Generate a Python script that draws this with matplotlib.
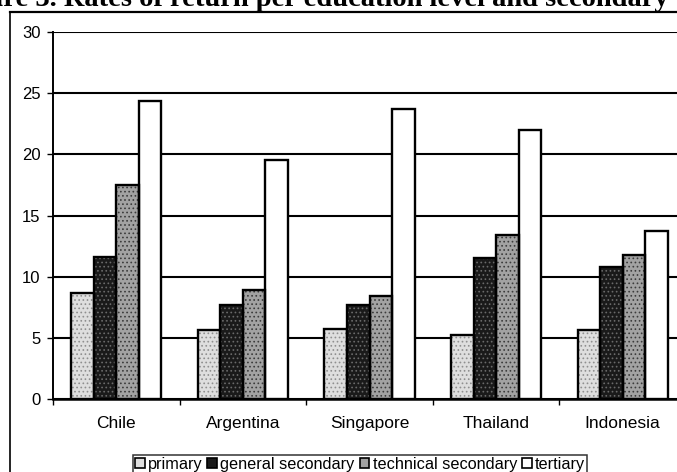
import matplotlib
matplotlib.use("Agg")
import matplotlib.pyplot as plt
from matplotlib.patches import Patch
from matplotlib.lines import Line2D
import numpy as np

countries = ["Chile", "Argentina", "Singapore", "Thailand", "Indonesia"]
series_names = ["primary", "general secondary", "technical secondary", "tertiary"]
primary = [8.7, 5.6, 5.7, 5.2, 5.6]
general_secondary = [11.6, 7.7, 7.7, 11.5, 10.8]
technical_secondary = [17.5, 8.9, 8.4, 13.4, 11.8]
tertiary = [24.4, 19.5, 23.7, 22.0, 13.7]
y_ticks = [0, 5, 10, 15, 20, 25, 30]
title_text = "Figure 3. Rates of return per education level and secondary"

series = [primary, general_secondary, technical_secondary, tertiary]
faces = ["#dedede", "#1a1a1a", "#a2a2a2", "#ffffff"]
hatch_cols = ["#8f8f8f", "#6a6a6a", "#3c3c3c", None]
hatches = ["....", "....", "....", None]

plt.rcParams["font.family"] = ["Liberation Sans", "DejaVu Sans"]
plt.rcParams["hatch.linewidth"] = 0.7

W, H = 677, 472
fig = plt.figure(figsize=(W / 100, H / 100), dpi=100)

ax = fig.add_axes([53 / W, 73 / H, (686 - 53) / W, (399 - 32) / H])
x = np.arange(len(countries))
bw = 0.178
for i, vals in enumerate(series):
    pos = x + (i - 1.5) * bw
    if hatches[i]:
        ax.bar(pos, vals, bw, color=faces[i], edgecolor=hatch_cols[i],
               hatch=hatches[i], linewidth=0, zorder=3)
        ax.bar(pos, vals, bw, fill=False, edgecolor="black",
               linewidth=1.7, zorder=4)
    else:
        ax.bar(pos, vals, bw, color=faces[i], edgecolor="black",
               linewidth=1.7, zorder=3)

ax.set_xlim(-0.5, len(countries) - 0.5)
ax.set_ylim(0, 30)
ax.set_yticks(y_ticks)
ax.yaxis.grid(True, color="black", linewidth=1.5, zorder=1)
ax.set_axisbelow(True)
ax.set_xticks(x)
ax.set_xticklabels(countries, fontsize=12.5)
ax.set_xticks(np.arange(len(countries) + 1) - 0.5, minor=True)
ax.tick_params(axis="x", which="major", length=0, pad=12)
ax.tick_params(axis="x", which="minor", length=4, width=1, direction="out")
ax.tick_params(axis="y", length=4, width=1, direction="out", pad=5, labelsize=12)
for s in ["top", "right"]:
    ax.spines[s].set_visible(False)
ax.spines["left"].set_linewidth(1.4)
ax.spines["bottom"].set_linewidth(1.8)

handles = [Patch(facecolor=faces[i], edgecolor="black", linewidth=1.2)
           for i in range(4)]
leg = fig.legend(handles, series_names, loc="lower left",
                 bbox_to_anchor=(133 / W, -2 / H), ncol=4, fontsize=11.7,
                 frameon=True, fancybox=False, edgecolor="black",
                 handlelength=0.6, handleheight=0.6, handletextpad=0.2,
                 columnspacing=0.3, borderpad=0.12, borderaxespad=0)
leg.get_frame().set_linewidth(1.1)

# outer frame of the figure panel
fig.add_artist(Line2D([10 / W, 10 / W], [0, 1 - 12 / H], color="black",
                      linewidth=1.2, transform=fig.transFigure))
fig.add_artist(Line2D([10 / W, 1], [1 - 12 / H, 1 - 12 / H], color="black",
                      linewidth=1.6, transform=fig.transFigure))

# caption, sized so the visible portion spans the top edge
renderer = fig.canvas.get_renderer()
probe = fig.text(0, 0, title_text[4:], fontsize=10, fontweight="bold",
                 family="Liberation Serif")
wpx = probe.get_window_extent(renderer).width
probe.remove()
fsize = 10 * 668 / wpx
fig.text(668 / W, 1 - 5.5 / H, title_text, fontsize=fsize, fontweight="bold",
         family="Liberation Serif", ha="right", va="baseline")

fig.savefig("out.png", dpi=100)
